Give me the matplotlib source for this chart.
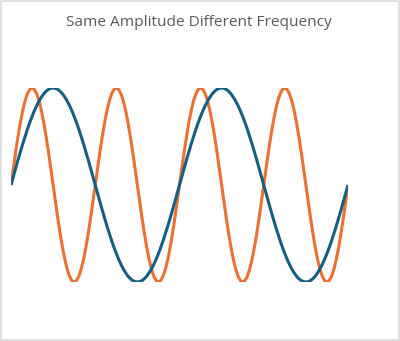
import matplotlib
matplotlib.use("Agg")
import matplotlib.pyplot as plt
from matplotlib.patches import Rectangle

# angle in degrees, 5 degree steps from 0 to 720
angles = list(range(0, 721, 5))

# sin(x) - same amplitude, lower frequency
low_freq = [
    0, .087, .174, .259, .342, .423, .5, .574, .643, .707, .766, .819, .866, .906, .940, .966, .985, .996,
    1, .996, .985, .966, .940, .906, .866, .819, .766, .707, .643, .574, .5, .423, .342, .259, .174, .087,
    0, -.087, -.174, -.259, -.342, -.423, -.5, -.574, -.643, -.707, -.766, -.819, -.866, -.906, -.940, -.966, -.985, -.996,
    -1, -.996, -.985, -.966, -.940, -.906, -.866, -.819, -.766, -.707, -.643, -.574, -.5, -.423, -.342, -.259, -.174, -.087,
    0, .087, .174, .259, .342, .423, .5, .574, .643, .707, .766, .819, .866, .906, .940, .966, .985, .996,
    1, .996, .985, .966, .940, .906, .866, .819, .766, .707, .643, .574, .5, .423, .342, .259, .174, .087,
    0, -.087, -.174, -.259, -.342, -.423, -.5, -.574, -.643, -.707, -.766, -.819, -.866, -.906, -.940, -.966, -.985, -.996,
    -1, -.996, -.985, -.966, -.940, -.906, -.866, -.819, -.766, -.707, -.643, -.574, -.5, -.423, -.342, -.259, -.174, -.087,
    0,
]

# sin(2x) - same amplitude, double frequency
high_freq = [
    0, .174, .342, .5, .643, .766, .866, .940, .985, 1, .985, .940, .866, .766, .643, .5, .342, .174,
    0, -.174, -.342, -.5, -.643, -.766, -.866, -.940, -.985, -1, -.985, -.940, -.866, -.766, -.643, -.5, -.342, -.174,
    0, .174, .342, .5, .643, .766, .866, .940, .985, 1, .985, .940, .866, .766, .643, .5, .342, .174,
    0, -.174, -.342, -.5, -.643, -.766, -.866, -.940, -.985, -1, -.985, -.940, -.866, -.766, -.643, -.5, -.342, -.174,
    0, .174, .342, .5, .643, .766, .866, .940, .985, 1, .985, .940, .866, .766, .643, .5, .342, .174,
    0, -.174, -.342, -.5, -.643, -.766, -.866, -.940, -.985, -1, -.985, -.940, -.866, -.766, -.643, -.5, -.342, -.174,
    0, .174, .342, .5, .643, .766, .866, .940, .985, 1, .985, .940, .866, .766, .643, .5, .342, .174,
    0, -.174, -.342, -.5, -.643, -.766, -.866, -.940, -.985, -1, -.985, -.940, -.866, -.766, -.643, -.5, -.342, -.174,
    0,
]

title = "Same Amplitude Different Frequency"

fig = plt.figure(figsize=(4.0, 3.41), dpi=100)
fig.patch.set_facecolor("white")
fig.patches.append(Rectangle((0.0025, 0.003), 0.995, 0.994, transform=fig.transFigure,
                             fill=False, edgecolor="#d9d9d9", linewidth=1.2))

ax = fig.add_axes([11 / 400, 59 / 341, 337 / 400, 194 / 341])
ax.plot(angles, high_freq, color="#E97132", linewidth=2.2, solid_capstyle="butt")
ax.plot(angles, low_freq, color="#156082", linewidth=2.2, solid_capstyle="butt")
ax.set_xlim(0, 720)
ax.set_ylim(-1, 1)
ax.axis("off")

fig.text(0.497, 1 - 23 / 341, title, ha="center", va="center",
         fontsize=11.1, color="#595959", family="Open Sans")

fig.savefig("out.png", dpi=100)
